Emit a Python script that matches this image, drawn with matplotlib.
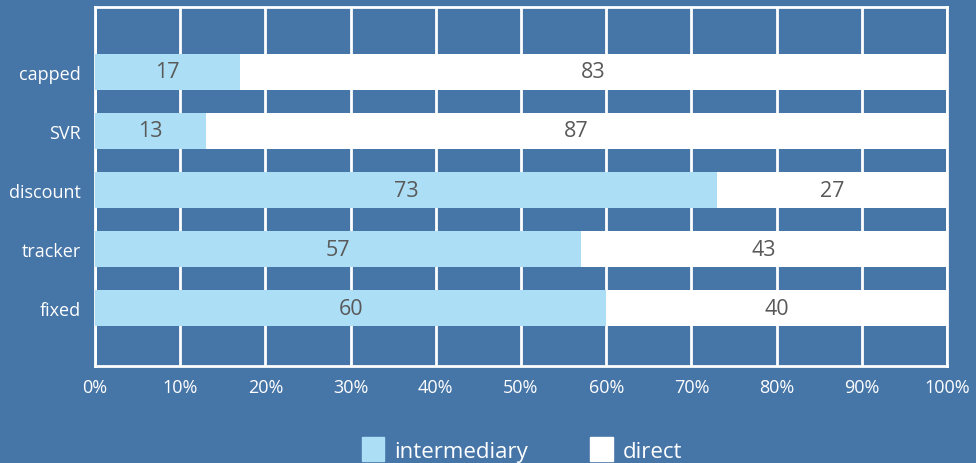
import matplotlib.pyplot as plt
import matplotlib.patches as mpatches
from matplotlib.ticker import PercentFormatter

# Share of mortgages by channel (%)
categories = ["fixed", "tracker", "discount", "SVR", "capped"]
intermediary = [60, 57, 73, 13, 17]
direct = [40, 43, 27, 87, 83]

bg = "#4675a8"
light = "#acdef6"
txt_dark = "#595959"

plt.rcParams["font.family"] = ["Open Sans", "DejaVu Sans"]

fig = plt.figure(figsize=(9.76, 4.64), dpi=100, facecolor=bg)
ax = fig.add_axes([95 / 976, 1 - 367 / 464, 852 / 976, 359 / 464])
ax.set_facecolor(bg)

y = range(len(categories))
h = 0.62
ax.barh(y, intermediary, height=h, color=light, zorder=3)
ax.barh(y, direct, left=intermediary, height=h, color="white", zorder=3)

for i, (a, b) in enumerate(zip(intermediary, direct)):
    ax.text(a / 2, i, str(a), ha="center", va="center", fontsize=15.5,
            color=txt_dark, zorder=4)
    ax.text(a + b / 2, i, str(b), ha="center", va="center", fontsize=15.5,
            color=txt_dark, zorder=4)

ax.set_xlim(0, 100)
ax.set_ylim(-0.98, 5.1)
ax.set_xticks(range(0, 101, 10))
ax.xaxis.set_major_formatter(PercentFormatter(decimals=0))
ax.set_yticks(list(y))
ax.set_yticklabels(categories)
ax.tick_params(axis="both", length=0, colors="white", labelsize=13)
ax.tick_params(axis="x", pad=9)
ax.tick_params(axis="y", pad=10)
ax.grid(axis="x", color="white", linewidth=2, zorder=1)

for s in ax.spines.values():
    s.set_color("white")
    s.set_linewidth(2)

handles = [mpatches.Patch(color=light, label="intermediary"),
           mpatches.Patch(color="white", label="direct")]
fig.legend(handles=handles, loc="lower center", bbox_to_anchor=(0.535, -0.04),
           ncol=2, frameon=False, fontsize=16, labelcolor="white",
           handlelength=1.0, handleheight=1.3, columnspacing=2.8,
           handletextpad=0.45)

fig.savefig("out.png", dpi=100, facecolor=bg)
